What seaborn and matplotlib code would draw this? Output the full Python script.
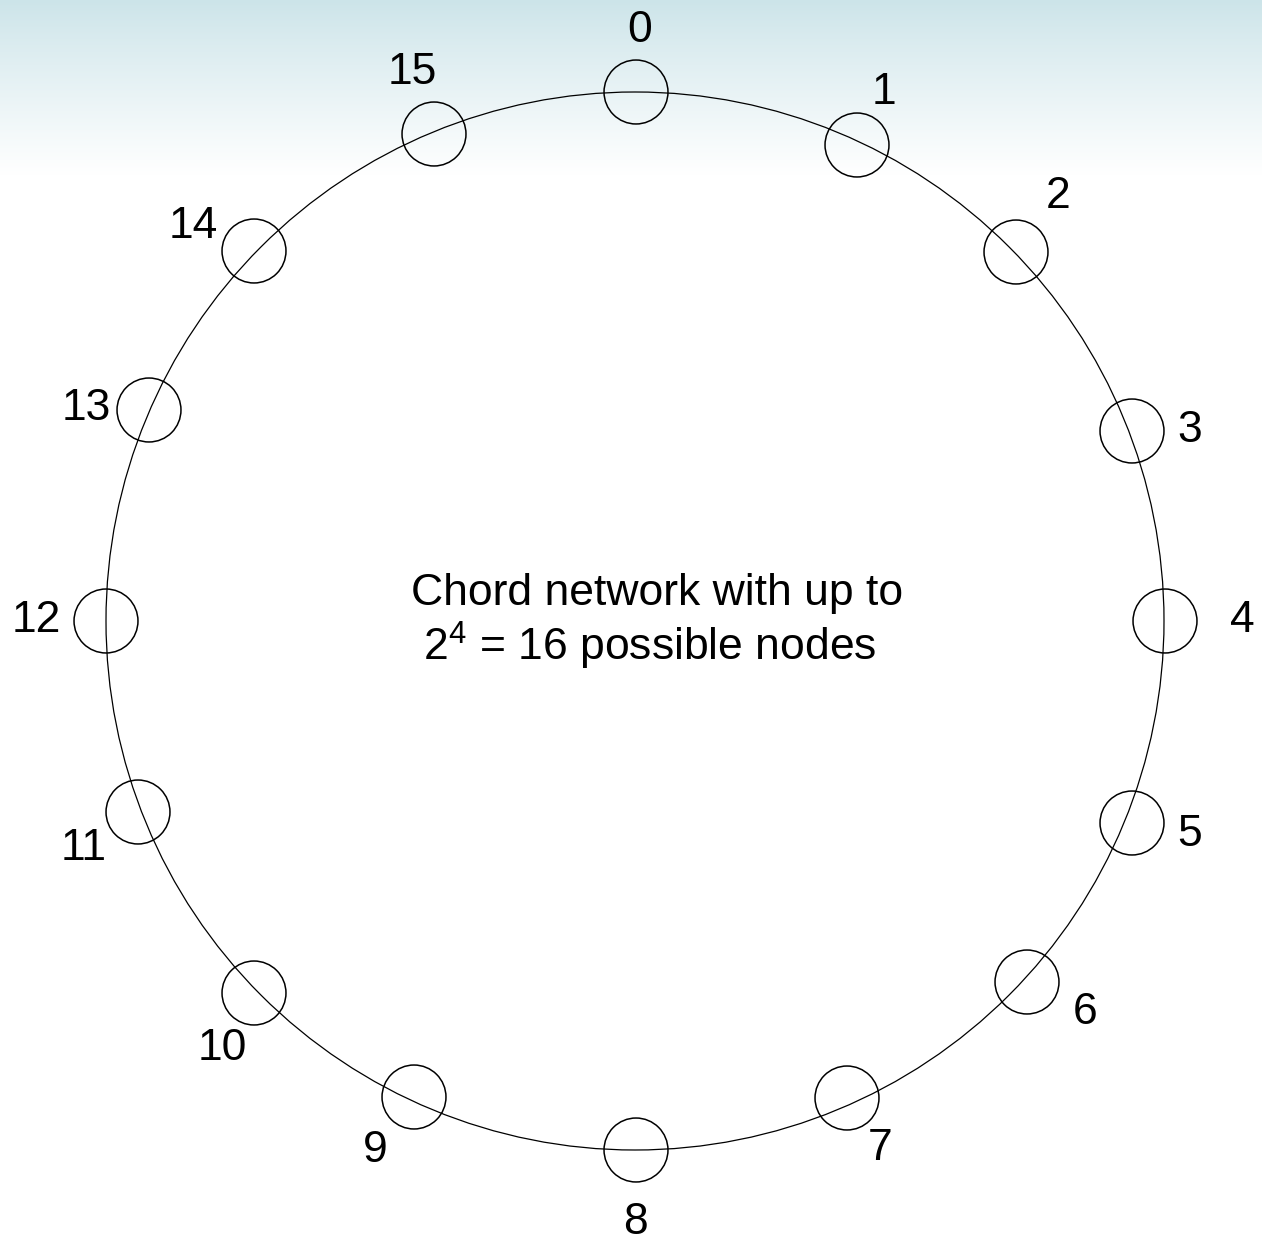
import numpy as np
import matplotlib
matplotlib.use("Agg")
import matplotlib.pyplot as plt
from matplotlib.patches import Circle
import pandas as pd
import seaborn as sns

#%%
#  Data (pixel positions of the drawing)

node_ids = list(range(16))
node_x = [636, 857, 1016, 1132, 1165, 1132, 1027, 847,
          636, 414, 254, 138, 106, 149, 254, 434]
node_y = [92, 145, 252, 431, 621, 823, 982, 1098,
          1150, 1097, 993, 812, 621, 410, 251, 134]
node_labels = [str(i) for i in node_ids]
title_lines = ["Chord network with up to", r"2$^{\mathregular{4}}$ = 16 possible nodes"]

#%%
#  Layout

ring_c = (635, 621)
ring_r = 529
label_x = [640, 884, 1058, 1190, 1242, 1190, 1085, 880,
           635, 375, 222, 84, 36, 86, 193, 412]
label_y = [30, 92, 197, 430, 621, 835, 1012, 1148,
           1222, 1150, 1048, 848, 621, 408, 226, 72]

sns.set_style("white")
plt.rcParams["font.family"] = ["Liberation Sans", "DejaVu Sans"]
plt.rcParams["mathtext.fontset"] = "custom"
plt.rcParams["mathtext.rm"] = "Liberation Sans"
plt.rcParams["text.color"] = "black"

fig = plt.figure(figsize=(12.62, 12.44), dpi=100)
ax = fig.add_axes([0, 0, 1, 1])
ax.axis("off")

# teal gradient at the top
grad = np.linspace(0, 1, 256).reshape(-1, 1)
top = np.array([0xcc, 0xe4, 0xe9]) / 255
img = top + (1 - top) * grad[..., None] ** 0.9
ax.imshow(img, extent=(0, 1262, 175, 0), origin="upper", aspect="auto", zorder=0)

ax.add_patch(Circle(ring_c, ring_r, fill=False, ec="black", lw=0.9, zorder=1))

df = pd.DataFrame({"node": node_ids, "x": node_x, "y": node_y})
sns.scatterplot(data=df, x="x", y="y", s=2120, marker="o", facecolors="none",
                edgecolor="black", linewidth=1.1, ax=ax, zorder=2, legend=False)

for lab, lx, ly in zip(node_labels, label_x, label_y):
    ax.text(lx, ly, lab, fontsize=32, ha="center", va="center", color="black")

ax.text(657, 594, title_lines[0], fontsize=32, ha="center", va="center", color="black")
ax.text(650, 646, title_lines[1], fontsize=32, ha="center", va="center", color="black")

ax.set_xlim(0, 1262)
ax.set_ylim(1244, 0)
ax.axis("off")
fig.savefig("out.png", dpi=100)
